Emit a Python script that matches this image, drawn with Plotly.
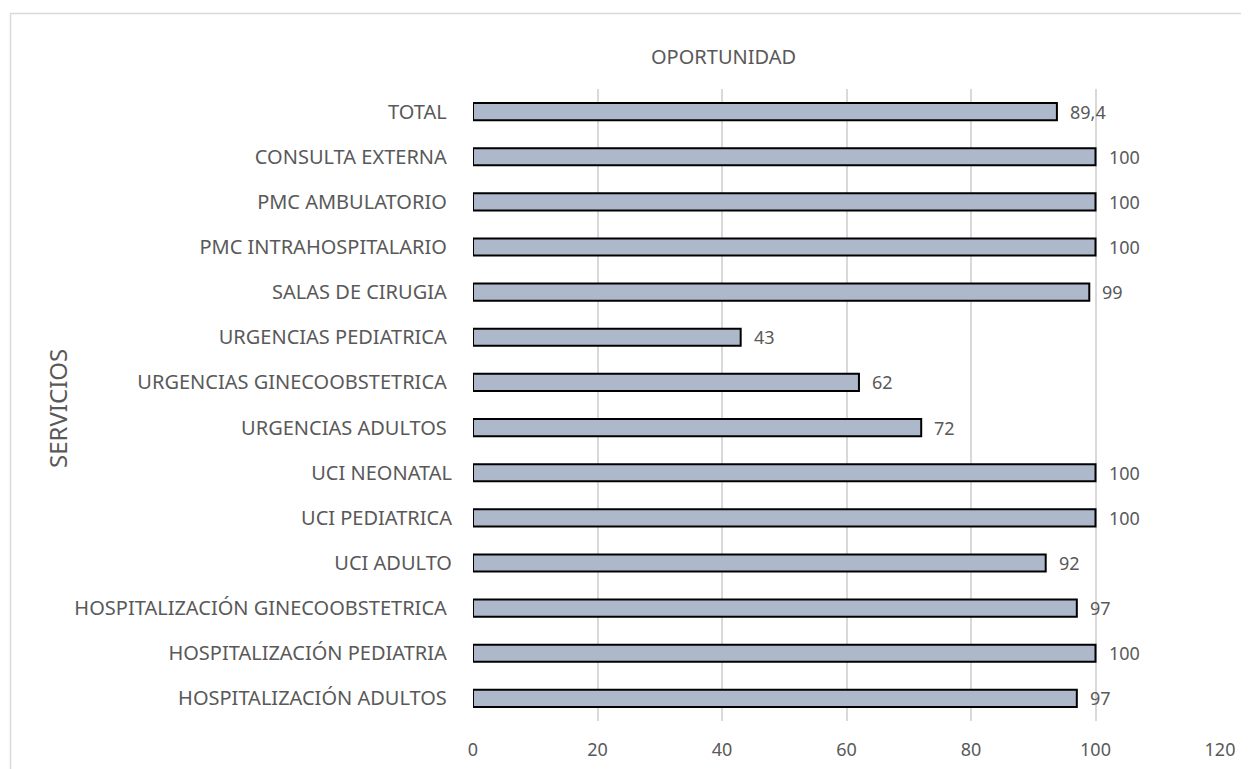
import plotly.graph_objects as go

NB = "\u00a0"
categories = [
    "TOTAL" + NB,
    "CONSULTA EXTERNA" + NB,
    "PMC AMBULATORIO" + NB,
    "PMC INTRAHOSPITALARIO" + NB,
    "SALAS DE CIRUGIA" + NB,
    "URGENCIAS PEDIATRICA" + NB,
    "URGENCIAS GINECOOBSTETRICA" + NB,
    "URGENCIAS ADULTOS" + NB,
    "UCI NEONATAL",
    "UCI PEDIATRICA",
    "UCI ADULTO",
    "HOSPITALIZACIÓN GINECOOBSTETRICA" + NB,
    "HOSPITALIZACIÓN PEDIATRIA" + NB,
    "HOSPITALIZACIÓN ADULTOS" + NB,
]
# bar lengths as drawn in the picture (TOTAL bar is drawn longer than its 89,4 label)
values = [93.8, 100, 100, 100, 99, 43, 62, 72, 100, 100, 92, 97, 100, 97]
value_labels = ["89,4", "100", "100", "100", "99", "43", "62", "72", "100", "100", "92", "97", "100", "97"]
x_ticks = [0, 20, 40, 60, 80, 100, 120]

FONT = "Noto Sans"
GREY = "#595959"

# page body offset (default 8px margin of the html page)
OFF = 8
W, H = 1249, 769
# desired plot area in screenshot pixels
L, R, T, B = 473 - OFF, 1220 - OFF, 89 - OFF, 721 - OFF

def px_to_paper_x(px):
    return (px - OFF - L) / (R - L)

def px_to_paper_y(py):
    return (B - (py - OFF)) / (B - T)

fig = go.Figure()
fig.add_trace(go.Bar(
    x=values,
    y=categories,
    orientation="h",
    marker=dict(color="#ADB9CA", line=dict(color="#000000", width=2)),
    width=0.38,
    hoverinfo="x+y",
))

for c, v, t in zip(categories, values, value_labels):
    fig.add_annotation(
        x=v, y=c, xref="x", yref="y", text=t, showarrow=False,
        xanchor="left", yanchor="middle", xshift=11,
        font=dict(family=FONT, size=18, color=GREY),
    )

# chart border (extends beyond the image on the right and bottom)
fig.add_shape(
    type="rect", xref="paper", yref="paper",
    x0=px_to_paper_x(10.5), x1=px_to_paper_x(1400),
    y0=px_to_paper_y(900), y1=px_to_paper_y(13.5),
    line=dict(color="#D9D9D9", width=1.5), fillcolor="rgba(0,0,0,0)",
    layer="below",
)

fig.add_annotation(
    x=px_to_paper_x(723), y=px_to_paper_y(57), xref="paper", yref="paper",
    text="OPORTUNIDAD", showarrow=False, xanchor="center", yanchor="middle",
    font=dict(family=FONT, size=20, color=GREY),
)
fig.add_annotation(
    x=px_to_paper_x(57), y=px_to_paper_y(408), xref="paper", yref="paper",
    text="SERVICIOS", showarrow=False, xanchor="center", yanchor="middle",
    textangle=-90,
    font=dict(family=FONT, size=24, color=GREY),
)

fig.update_layout(
    width=W, height=H,
    margin=dict(l=L, r=W - R, t=T, b=H - B, pad=0),
    paper_bgcolor="white",
    plot_bgcolor="white",
    showlegend=False,
    font=dict(family=FONT, size=20, color=GREY),
    xaxis=dict(
        range=[0, 120],
        tickvals=x_ticks,
        ticktext=[str(t) for t in x_ticks],
        showgrid=True, gridcolor="#D9D9D9", gridwidth=1.5,
        zeroline=False, showline=False,
        ticks="", ticklabelstandoff=16,
        tickfont=dict(family=FONT, size=18, color=GREY),
        fixedrange=True,
    ),
    yaxis=dict(
        categoryorder="array",
        categoryarray=categories[::-1],
        autorange=True,
        showgrid=False, zeroline=False, showline=False,
        ticks="", ticklabelstandoff=20,
        tickfont=dict(family=FONT, size=20, color=GREY),
        fixedrange=True,
    ),
)

fig.write_html("out.html")
